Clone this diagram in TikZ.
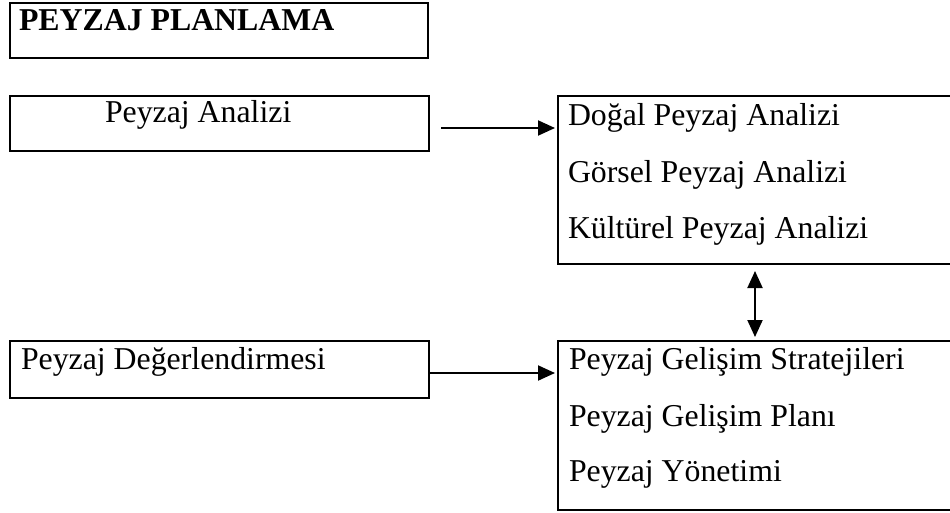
\documentclass[tikz,border=0pt]{standalone}
\usepackage{fontspec}
\setmainfont{Liberation Serif}
\usetikzlibrary{arrows.meta}

\tikzset{
  box/.style={draw=black, line width=2pt, rectangle, inner sep=0pt, outer sep=0pt, anchor=north west},
  txt/.style={inner sep=0pt, outer sep=0pt, anchor=base west, font=\fontsize{31.8pt}{36pt}\selectfont},
  tip/.style={Triangle[length=17pt,width=15pt]},
  arr/.style={draw=black, line width=2pt, -{Triangle[length=17pt,width=15pt]}},
  dblarr/.style={draw=black, line width=2pt, {Triangle[length=17pt,width=15pt]}-{Triangle[length=17pt,width=15pt]}}
}

\begin{document}
\begin{tikzpicture}[x=1pt,y=-1pt]
  \useasboundingbox (0,0) rectangle (950,512);

  % boxes
  \node[box, minimum width=418pt, minimum height=55pt] (title) at (10,3) {};
  \node[box, minimum width=419pt, minimum height=55pt] (pa) at (10,96) {};
  \node[box, minimum width=394pt, minimum height=168pt] (ra) at (558,96) {};
  \node[box, minimum width=419pt, minimum height=57pt] (pd) at (10,341) {};
  \node[box, minimum width=394pt, minimum height=169pt] (rb) at (558,341) {};

  % labels
  \node[txt, font=\fontsize{31.8pt}{36pt}\selectfont\bfseries] (ttitle) at (19,30) {PEYZAJ PLANLAMA};
  \node[txt] (tpa) at (105,122) {Peyzaj Analizi};
  \node[txt] (tra1) at (568,125) {Doğal Peyzaj Analizi};
  \node[txt] (tra2) at (568,182) {Görsel Peyzaj Analizi};
  \node[txt] (tra3) at (568,238) {Kültürel Peyzaj Analizi};
  \node[txt] (tpd) at (21,369) {Peyzaj Değerlendirmesi};
  \node[txt] (trb1) at (569,369) {Peyzaj Gelişim Stratejileri};
  \node[txt] (trb2) at (569,426) {Peyzaj Gelişim Planı};
  \node[txt] (trb3) at (569,481) {Peyzaj Yönetimi};

  % connectors
  \coordinate (a1) at ([yshift=-4.5pt]pa.east);
  \draw[arr, shorten <=12pt, shorten >=3pt] (a1) -- (a1 -| ra.west);
  \coordinate (a2) at ([yshift=-3.5pt]pd.east);
  \draw[arr, shorten >=3pt] (a2) -- (a2 -| rb.west);
  \draw[dblarr, shorten <=7pt, shorten >=4pt] (ra.south) -- (rb.north);
\end{tikzpicture}
\end{document}
